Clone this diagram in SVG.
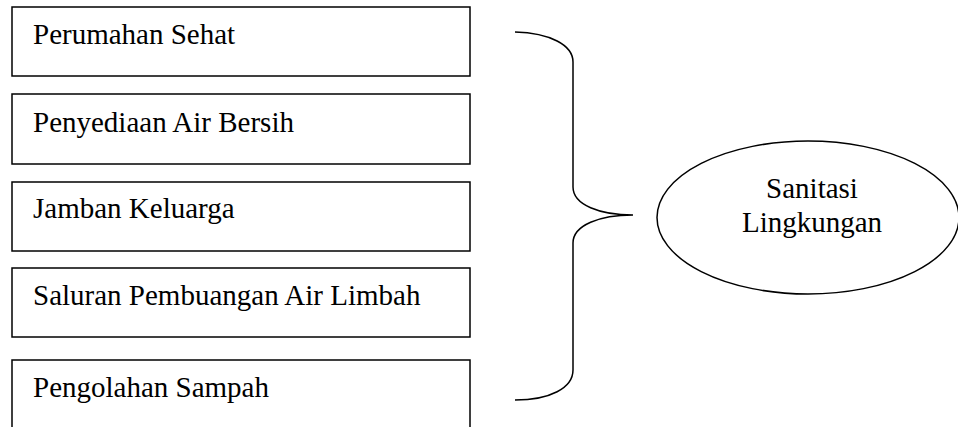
<svg xmlns="http://www.w3.org/2000/svg" width="958" height="427" viewBox="0 0 958 427">
<style>
.box{fill:#fff;stroke:#000;stroke-width:1.5}
.t{font-family:'Liberation Serif','Times New Roman','DejaVu Serif',serif;font-size:29px;fill:#000}
.c{fill:none;stroke:#000;stroke-width:1.5}
</style>
<rect width="958" height="427" fill="#fff"/>
<g id="n1"><rect class="box" x="12" y="7" width="458" height="69"/><text class="t" x="33" y="44">Perumahan Sehat</text></g>
<g id="n2"><rect class="box" x="12" y="94" width="458" height="70"/><text class="t" x="33" y="132">Penyediaan Air Bersih</text></g>
<g id="n3"><rect class="box" x="12" y="182" width="458" height="69"/><text class="t" x="33" y="218">Jamban Keluarga</text></g>
<g id="n4"><rect class="box" x="12" y="268" width="458" height="69"/><text class="t" x="33" y="305">Saluran Pembuangan Air Limbah</text></g>
<g id="n5"><rect class="box" x="12" y="360" width="458" height="80"/><text class="t" x="33" y="397">Pengolahan Sampah</text></g>
<g id="connectors"><path class="c" d="M515,32 C550,33 573,45 573,62 L573,187 C573,205 600,215 633,215 C600,215 573,225 573,243 L573,370 C573,388 550,400 515,400"/></g>
<g id="n6"><ellipse class="box" cx="808" cy="217.5" rx="151" ry="76.5"/><text class="t" x="812" y="198" text-anchor="middle">Sanitasi</text><text class="t" x="812" y="232" text-anchor="middle">Lingkungan</text></g>
</svg>
